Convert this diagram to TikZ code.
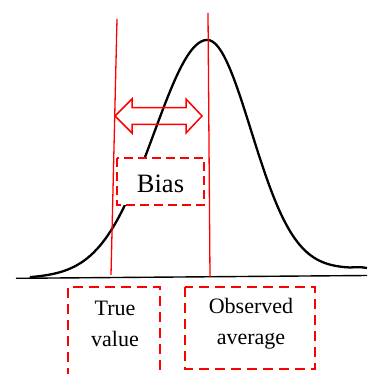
\documentclass[tikz,border=0pt]{standalone}
\usepackage{fontspec}
\setmainfont{Liberation Serif}
\newfontfamily\tnr{Liberation Serif}
\begin{document}
\begin{tikzpicture}[x=1pt,y=-1pt,
  curve/.style={black, line width=2.3pt, line join=round},
  axisline/.style={black, line width=1.4pt},
  redline/.style={red, line width=1.3pt},
  dbox/.style={red, line width=2.4pt, dash pattern=on 10pt off 6pt},
  lbl/.style={font=\tnr\fontsize{22}{31}\selectfont, align=center, inner sep=0pt},
  biaslbl/.style={font=\tnr\fontsize{26.5}{30}\selectfont, inner sep=0pt}]
\useasboundingbox (0,0) rectangle (367,374);
% axis
\coordinate (axL) at (16,278.3);
\coordinate (axR) at (367,275.5);
\draw[axisline] (axL) -- (axR);
% curve
\draw[curve] plot[domain=30:207, samples=60, smooth] (\x, {278-(\x-30)*9/310 - 232.9*exp(-0.5*((\x-207)/53)^2)})
  -- plot[domain=207:345, samples=50, smooth] (\x, {278-(\x-30)*9/310 - 232.9*exp(-0.5*((\x-207)/44)^2)})
  .. controls (352,268.3) and (356,266) .. (367,268);
% bias box
\fill[white] (117,158) rectangle (204,205);
\draw[dbox, line width=2pt, dash pattern=on 9pt off 5pt] (117,158) rectangle (204,205);
\node[biaslbl] (bias) at (160.5,183.5) {Bias};
% red vertical lines
\coordinate (t1) at (117,19);
\coordinate (b1) at (111,275);
\coordinate (t2) at (208,13);
\coordinate (b2) at (210,277);
\draw[redline] (t1) -- (b1);
\draw[redline] (t2) -- (b2);
% double arrow
\draw[red, line width=1.5pt, line join=miter]
  (115,116) -- (132,99) -- (132,107.7) -- (186,107.7) -- (186,99) -- (202,116)
  -- (186,133) -- (186,124.5) -- (132,124.5) -- (132,133) -- cycle;
% labels
\node[lbl] (tv) at (115,324) {True\\value};
\node[lbl] (oa) at (251,324) {Observed\\average};
\draw[dbox] (68,378) -- (68,287) -- (160,287) -- (160,378);
\draw[dbox] (185,287) rectangle (315,369);
\end{tikzpicture}
\end{document}
